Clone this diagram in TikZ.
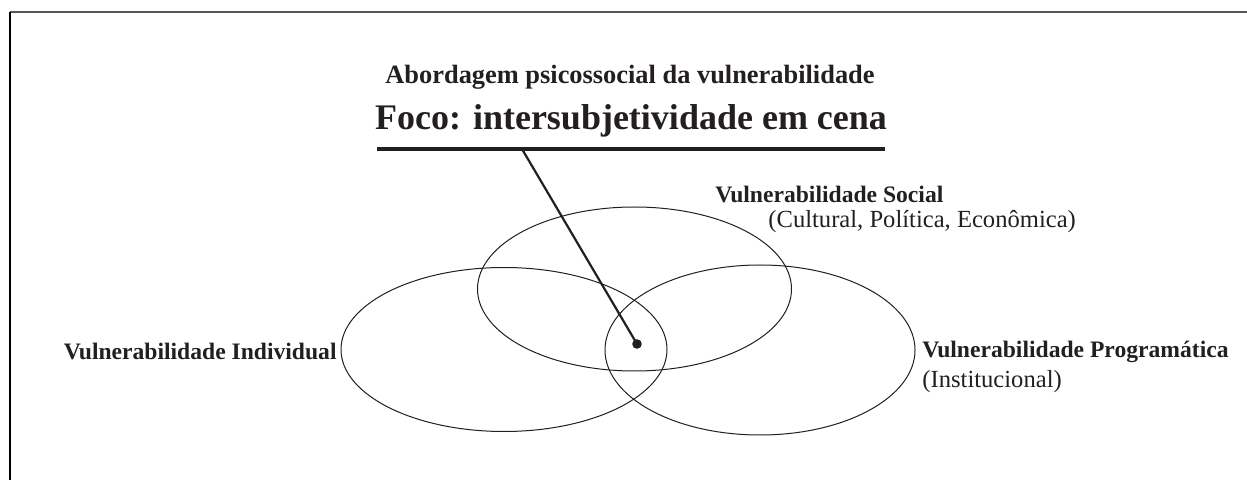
\documentclass[tikz,border=0pt]{standalone}
\usepackage{fontspec}
\setmainfont{Liberation Serif}
\definecolor{ink}{HTML}{231F20}
\definecolor{framegray}{HTML}{555555}
\tikzset{
  lbl/.style={inner sep=0pt,text=ink,font=\bfseries\fontsize{11.8}{14}\selectfont},
  sublbl/.style={inner sep=0pt,text=ink,font=\fontsize{12.3}{14}\selectfont},
  vcirc/.style={draw=ink,line width=0.5pt}
}
\begin{document}
\begin{tikzpicture}[x=0.5pt,y=-0.5pt]
        \useasboundingbox (0,0) rectangle (1247,480);
        % moldura
        \draw[framegray,line width=1pt](10,12)--(1247,12);
        \draw[line width=0.6pt](10,12)--(10,480);
        % titulo
        \node[inner sep=0pt,anchor=base,text=ink,font=\bfseries\fontsize{13.2}{15}\selectfont] (abord) at (630,84) {Abordagem psicossocial da vulnerabilidade};
        \node[inner sep=0pt,anchor=base,text=ink,font=\bfseries\fontsize{18}{21}\selectfont] (foco) at (631,130) {Foco: intersubjetividade em cena};
        \coordinate (ulL) at (377,149);
        \coordinate (ulR) at (885,149);
        \draw[ink,line width=2pt](ulL)--(ulR);
        % elipses
        \coordinate (cind) at (504,349.5);
        \coordinate (cprog) at (760,350);
        \coordinate (csoc) at (634.5,289);
        \draw[vcirc] (cind) ellipse [x radius=81.5pt,y radius=41pt];
        \draw[vcirc] (cprog) ellipse [x radius=77.5pt,y radius=42.5pt];
        \draw[vcirc] (csoc) ellipse [x radius=78.5pt,y radius=41pt];
        % foco
        \coordinate (fstart) at (522,149);
        \coordinate (fdot) at (637,344);
        \draw[ink,line width=1.1pt](fstart)--(fdot);
        \fill[ink](fdot) circle[radius=2.4pt];
        % rotulos
        \node[lbl,anchor=base east] (vind) at (337,360) {Vulnerabilidade Individual};
        \node[lbl,anchor=base west] (vsoc) at (715,203) {Vulnerabilidade Social};
        \node[sublbl,anchor=base west] (vsocsub) at (768,228) {(Cultural, Política, Econômica)};
        \node[lbl,anchor=base west] (vprog) at (922,358) {Vulnerabilidade Programática};
        \node[sublbl,anchor=base west] (vprogsub) at (922,387) {(Institucional)};
      \end{tikzpicture}
\end{document}
